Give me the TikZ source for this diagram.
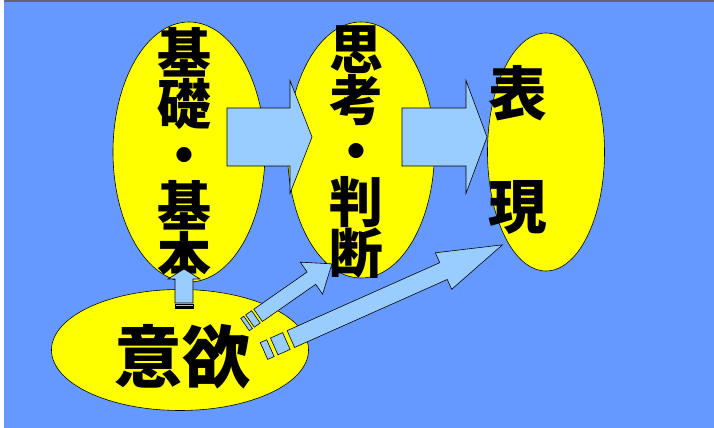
\documentclass[tikz,border=0pt]{standalone}
\usepackage{fontspec}
\newfontfamily\jpfont{Noto Sans CJK JP}
\usetikzlibrary{shapes.geometric}

\definecolor{bgblue}{HTML}{6699FF}
\definecolor{sunyellow}{HTML}{FFFF00}
\definecolor{paleblue}{HTML}{99CCFF}
\definecolor{rulegray}{HTML}{5F6470}

\tikzset{
  arrowbody/.style={draw=black, fill=paleblue, line width=0.5pt, line join=miter},
  % plain block arrow: length / shaft half width / head half width / head length
  pics/fatarrow/.style args={#1/#2/#3/#4}{code={
    \draw[arrowbody] (0,-#2) -- ({#1-#4},-#2) -- ({#1-#4},-#3) -- (#1,0)
      -- ({#1-#4},#3) -- ({#1-#4},#2) -- (0,#2) -- cycle;
  }},
  % striped block arrow, #5 = stripe unit
  pics/stripedarrow/.style args={#1/#2/#3/#4/#5}{code={
    \draw[arrowbody] (0,-#2) rectangle (#5,#2);
    \draw[arrowbody] ({1.6*#5},-#2) rectangle ({3.5*#5},#2);
    \draw[arrowbody] ({4.2*#5},-#2) -- ({#1-#4},-#2) -- ({#1-#4},-#3) -- (#1,0)
      -- ({#1-#4},#3) -- ({#1-#4},#2) -- ({4.2*#5},#2) -- cycle;
  }}
}

\begin{document}
\begin{tikzpicture}[
        x=0.03cm, y=-0.03cm,
        bubble/.style = {ellipse, draw=black, line width=0.5pt, fill=sunyellow, inner sep=0pt},
        vtext/.style = {inner sep=0pt, align=center, font=\jpfont\bfseries\fontsize{46}{43.5}\selectfont}
    ]
    \useasboundingbox (0,0) rectangle (714,428);
    \fill[bgblue] (4,2) rectangle (714,428);
    \fill[rulegray] (4,0) rectangle (714,2);

    % upper row
    \node[bubble, minimum width=4.56cm, minimum height=7.8cm] (kiso) at (189,152) {};
    \node[bubble, minimum width=4.41cm, minimum height=7.68cm] (shiko) at (361,150) {};
    \node[bubble, minimum width=3.51cm, minimum height=7.14cm] (hyogen) at (546,152) {};

    \pic at (227,137) {fatarrow=85/29/56.5/22};
    \pic at (402,137) {fatarrow=85/29/56.5/21};

    \node[vtext] (kisoText) at (184,155) {基\\礎\\・\\基\\本};
    \node[vtext] (shikoText) at (356,152) {思\\考\\・\\判\\断};
    \node[vtext, font=\jpfont\bfseries\fontsize{50}{97}\selectfont] (hyogenText) at (518,150) {表\\現};

    % motivation
    \node[bubble, minimum width=7.71cm, minimum height=3.63cm] (iyoku) at (180,350) {};
    \pic[rotate=90] at (184,308) {stripedarrow=39/9/16/10/1.2};
    \pic[rotate=34.9] at (245,324.5) {stripedarrow=106/7.5/19.5/25/3.8};
    \pic[rotate=24] at (264,351) {stripedarrow=261/9.2/20/64.5/7};
    \node[vtext, font=\jpfont\bfseries\fontsize{58}{60}\selectfont] (iyokuText) at (182,357) {意欲};
\end{tikzpicture}
\end{document}
